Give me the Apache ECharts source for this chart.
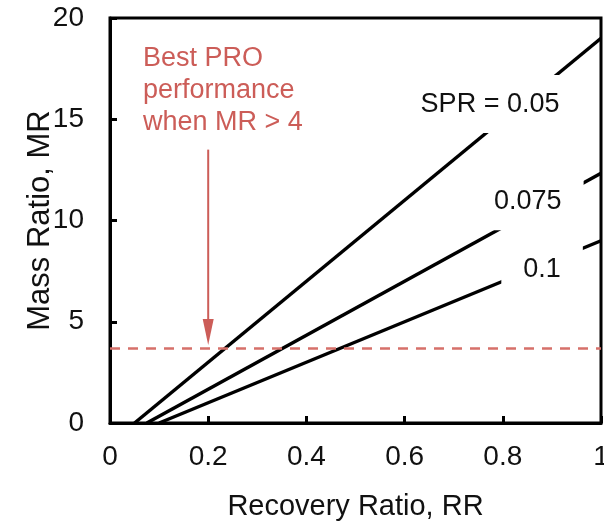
<!DOCTYPE html>
<html>
<head>
<meta charset="utf-8">
<script src="https://cdn.jsdelivr.net/npm/echarts@6/dist/echarts.min.js"></script>
<style>
  html, body { margin: 0; padding: 0; background: #fff; }
  #chart { width: 604px; height: 523px; }
</style>
</head>
<body>
<div id="chart"></div>
<script>
// values
const sprValues = [0.05, 0.075, 0.1]          // RR where MR = 0
const mrAtFullRecovery = [19, 12.33, 9]       // MR at RR = 1
const sprLabels = ['SPR = 0.05', '0.075', '0.1']
const xTickLabels = ['0', '0.2', '0.4', '0.6', '0.8', '1']
const yTickLabels = ['0', '5', '10', '15', '20']
const targetMR = 3.7
const arrowRR = 0.2
const arrowFromMR = 13.5
const arrowToMR = 3.85
const noteText = ['Best PRO', 'performance', 'when MR > 4']

const FONT = 'Liberation Sans, Arial, sans-serif'
const RED = '#cc5d58'

const chart = echarts.init(document.getElementById('chart'), null, { renderer: 'canvas' })

const lineSeries = sprValues.map((spr, i) => ({
  type: 'line',
  name: sprLabels[i],
  data: [[spr, 0], [1, mrAtFullRecovery[i]]],
  symbol: 'none',
  lineStyle: { color: '#000', width: 3.5 },
  z: 3,
  silent: true
}))

// label anchors (data coords) -- white boxes cut the lines like the original
const labelSpots = [[0.774, 15.75], [0.851, 10.95], [0.88, 7.6]]

const option = {
  animation: false,
  backgroundColor: '#fff',
  textStyle: { fontFamily: FONT },
  grid: {
    left: 110, right: 3, top: 18, bottom: 100,
    outerBoundsMode: 'none',
    containLabel: false,
    show: true, borderColor: '#000', borderWidth: 3
  },
  xAxis: {
    type: 'value',
    min: 0, max: 1, interval: 0.2,
    name: 'Recovery Ratio, RR',
    nameLocation: 'middle',
    nameGap: 69,
    nameTextStyle: { fontSize: 29, color: '#111', fontFamily: FONT },
    axisLine: { lineStyle: { color: '#000', width: 3 } },
    axisTick: { inside: true, length: 7, lineStyle: { color: '#000', width: 3 } },
    axisLabel: {
      fontSize: 28, color: '#111', margin: 20, fontFamily: FONT,
      formatter: (v) => xTickLabels[Math.round(v / 0.2)]
    },
    splitLine: { show: false }
  },
  yAxis: {
    type: 'value',
    min: 0, max: 20, interval: 5,
    name: 'Mass Ratio, MR',
    nameLocation: 'middle',
    nameGap: 54,
    nameMoveOverlap: false,
    nameTextStyle: { fontSize: 31, color: '#111', fontFamily: FONT },
    axisLine: { lineStyle: { color: '#000', width: 3 } },
    axisTick: { inside: true, length: 7, lineStyle: { color: '#000', width: 3 } },
    axisLabel: {
      fontSize: 28, color: '#111', margin: 26, fontFamily: FONT,
      formatter: (v) => yTickLabels[Math.round(v / 5)]
    },
    splitLine: { show: false }
  },
  series: [
    ...lineSeries,
    {
      // dashed target line
      type: 'line',
      data: [],
      silent: true,
      markLine: {
        silent: true,
        symbol: 'none',
        label: { show: false },
        lineStyle: { color: '#d6706a', width: 2.5, type: [10, 8] },
        data: [{ yAxis: targetMR }]
      }
    },
    {
      // arrow shaft
      type: 'line',
      data: [[arrowRR, arrowFromMR], [arrowRR, arrowToMR + 1]],
      symbol: 'none',
      lineStyle: { color: RED, width: 2 },
      silent: true
    },
    {
      // arrow head
      type: 'scatter',
      data: [[arrowRR, arrowToMR]],
      symbol: 'triangle',
      symbolRotate: 180,
      symbolSize: [11, 26],
      symbolOffset: [0, -13],
      itemStyle: { color: RED, opacity: 1 },
      silent: true
    },
    {
      // SPR labels
      type: 'scatter',
      z: 10,
      symbolSize: 0,
      silent: true,
      itemStyle: { opacity: 1 },
      data: labelSpots.map((p, i) => ({ value: p, name: sprLabels[i] })),
      label: {
        show: true,
        position: 'inside',
        formatter: (p) => p.name,
        fontSize: 27,
        color: '#111',
        fontFamily: FONT,
        backgroundColor: '#fff',
        padding: [17, 22, 14, 22]
      }
    },
    {
      // note text
      type: 'scatter',
      z: 10,
      symbolSize: 0,
      silent: true,
      itemStyle: { opacity: 1 },
      data: [{ value: [0.067, 16.4], name: noteText.join('\n') }],
      label: {
        show: true,
        position: 'right',
        distance: 0,
        align: 'left',
        verticalAlign: 'middle',
        formatter: (p) => p.name,
        fontSize: 27,
        lineHeight: 32,
        color: RED,
        fontFamily: FONT
      }
    }
  ]
}

chart.setOption(option)
</script>
</body>
</html>
